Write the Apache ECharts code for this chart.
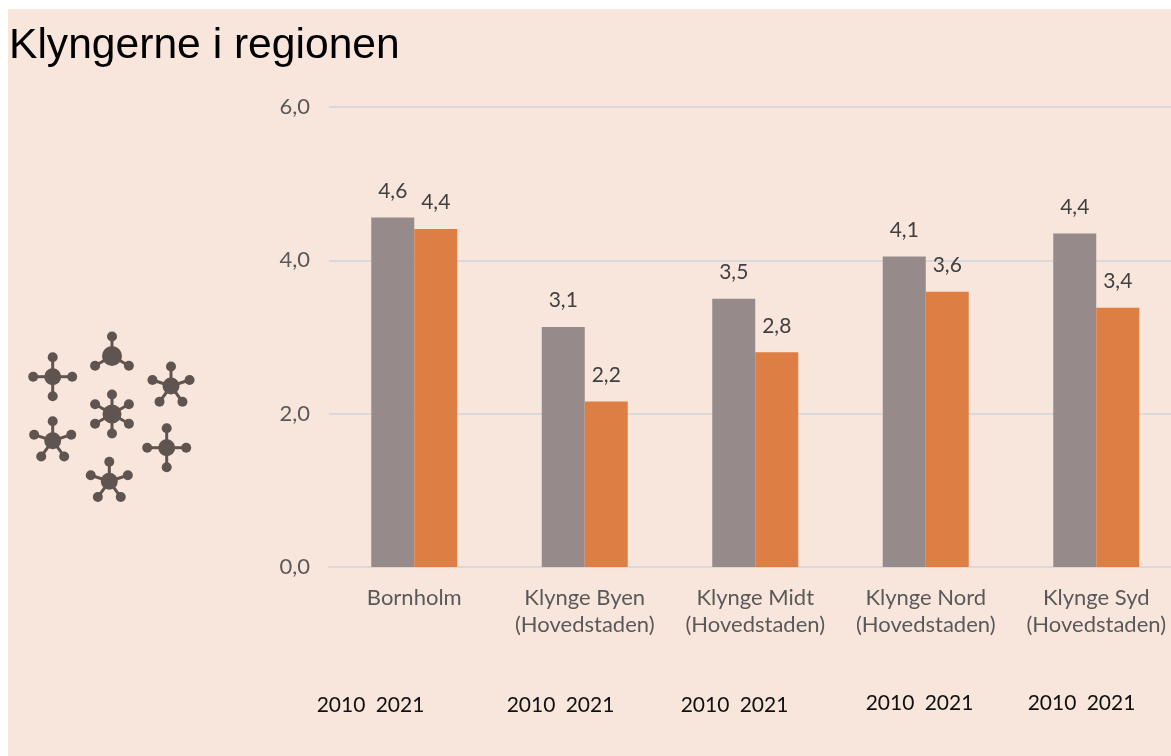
<!DOCTYPE html>
<html><head><meta charset="utf-8">
<style>html,body{margin:0;padding:0;background:#fff;overflow:hidden}
#bg{position:absolute;left:8px;top:9px;width:1163px;height:747px;background:#F8E6DC}
#c{position:absolute;left:0;top:0;width:1171px;height:756px}</style>
<script src="https://cdn.jsdelivr.net/npm/echarts@6/dist/echarts.min.js"></script>
</head><body><div id="bg"></div><div id="c"></div>
<script>
const categories = ['Bornholm','Klynge Byen\n(Hovedstaden)','Klynge Midt\n(Hovedstaden)','Klynge Nord\n(Hovedstaden)','Klynge Syd\n(Hovedstaden)'];
const values2010 = [4.56,3.13,3.50,4.051,4.351];
const values2021 = [4.41,2.16,2.80,3.59,3.38];
const yearA = '2010', yearB = '2021';

const yearRows = [[341,705],[531,705],[705,705],[890,703],[1052,703]];
const ICON = '#5F5450';
const clusters = [
 [52.7,376.7,8.5,[0,90,180,270]],
 [112,356,10,[90,210,330]],
 [171,386,8.5,[90,18,162,234,306]],
 [112,414,9.5,[90,30,150,210,330,270]],
 [52.7,440.7,8.5,[90,18,162,234,306]],
 [166.7,447.7,8.5,[0,90,180,270]],
 [109.3,481.3,8.5,[90,18,162,234,306]]
];
const iconParts = [];
clusters.forEach(([cx,cy,r,angles])=>{
  angles.forEach(a=>{
    const t=a*Math.PI/180, L=19.5, x=cx+L*Math.cos(t), y=cy-L*Math.sin(t);
    iconParts.push({type:'line',shape:{x1:cx,y1:cy,x2:x,y2:y},style:{stroke:ICON,lineWidth:3}});
    iconParts.push({type:'circle',shape:{cx:x,cy:y,r:5},style:{fill:ICON}});
  });
  iconParts.push({type:'circle',shape:{cx,cy,r},style:{fill:ICON}});
});
const yearTexts = [];
yearRows.forEach(([x,y])=>{
  yearTexts.push({type:'text',x:x,y:y,style:{text:yearA,font:'21px Lato',fill:'#111',align:'center',verticalAlign:'middle'}});
  yearTexts.push({type:'text',x:x+59,y:y,style:{text:yearB,font:'21px Lato',fill:'#111',align:'center',verticalAlign:'middle'}});
});
const fmt = v => v.toFixed(1).replace('.',',');
const lbl = {show:true,position:'top',distance:16,fontFamily:'Lato',fontSize:21,color:'#404040',formatter:p=>fmt(p.value)};
const chart = echarts.init(document.getElementById('c'),null,{renderer:'canvas'});
chart.setOption({
  animation:false,
  backgroundColor:'transparent',
  title:{text:'Klyngerne i regionen',left:9,top:25,padding:0,textStyle:{fontFamily:'Liberation Sans',fontSize:42.6,fontWeight:'normal',color:'#000'}},
  grid:{left:329,top:107,width:852.5,height:460,outerBoundsMode:'none'},
  xAxis:{type:'category',data:categories,
    axisLine:{show:true,lineStyle:{color:'#D9D9D9',width:2}},axisTick:{show:false},
    axisLabel:{interval:0,margin:17,fontFamily:'Lato',fontSize:22,lineHeight:27,color:'#595959'}},
  yAxis:{type:'value',min:0,max:6,interval:2,
    axisLine:{show:false},axisTick:{show:false},
    splitLine:{lineStyle:{color:'#D9D9D9',width:2}},
    axisLabel:{margin:19,fontFamily:'Lato',fontSize:22,padding:[2,0,0,0],color:'#595959',formatter:fmt}},
  series:[
    {name:yearA,type:'bar',data:values2010,barWidth:43,barGap:'0%',itemStyle:{color:'#968B8A'},label:lbl},
    {name:yearB,type:'bar',data:values2021,barWidth:43,barGap:'0%',itemStyle:{color:'#DD7F45'},label:lbl}
  ],
  graphic:[...iconParts,...yearTexts]
});
</script></body></html>
